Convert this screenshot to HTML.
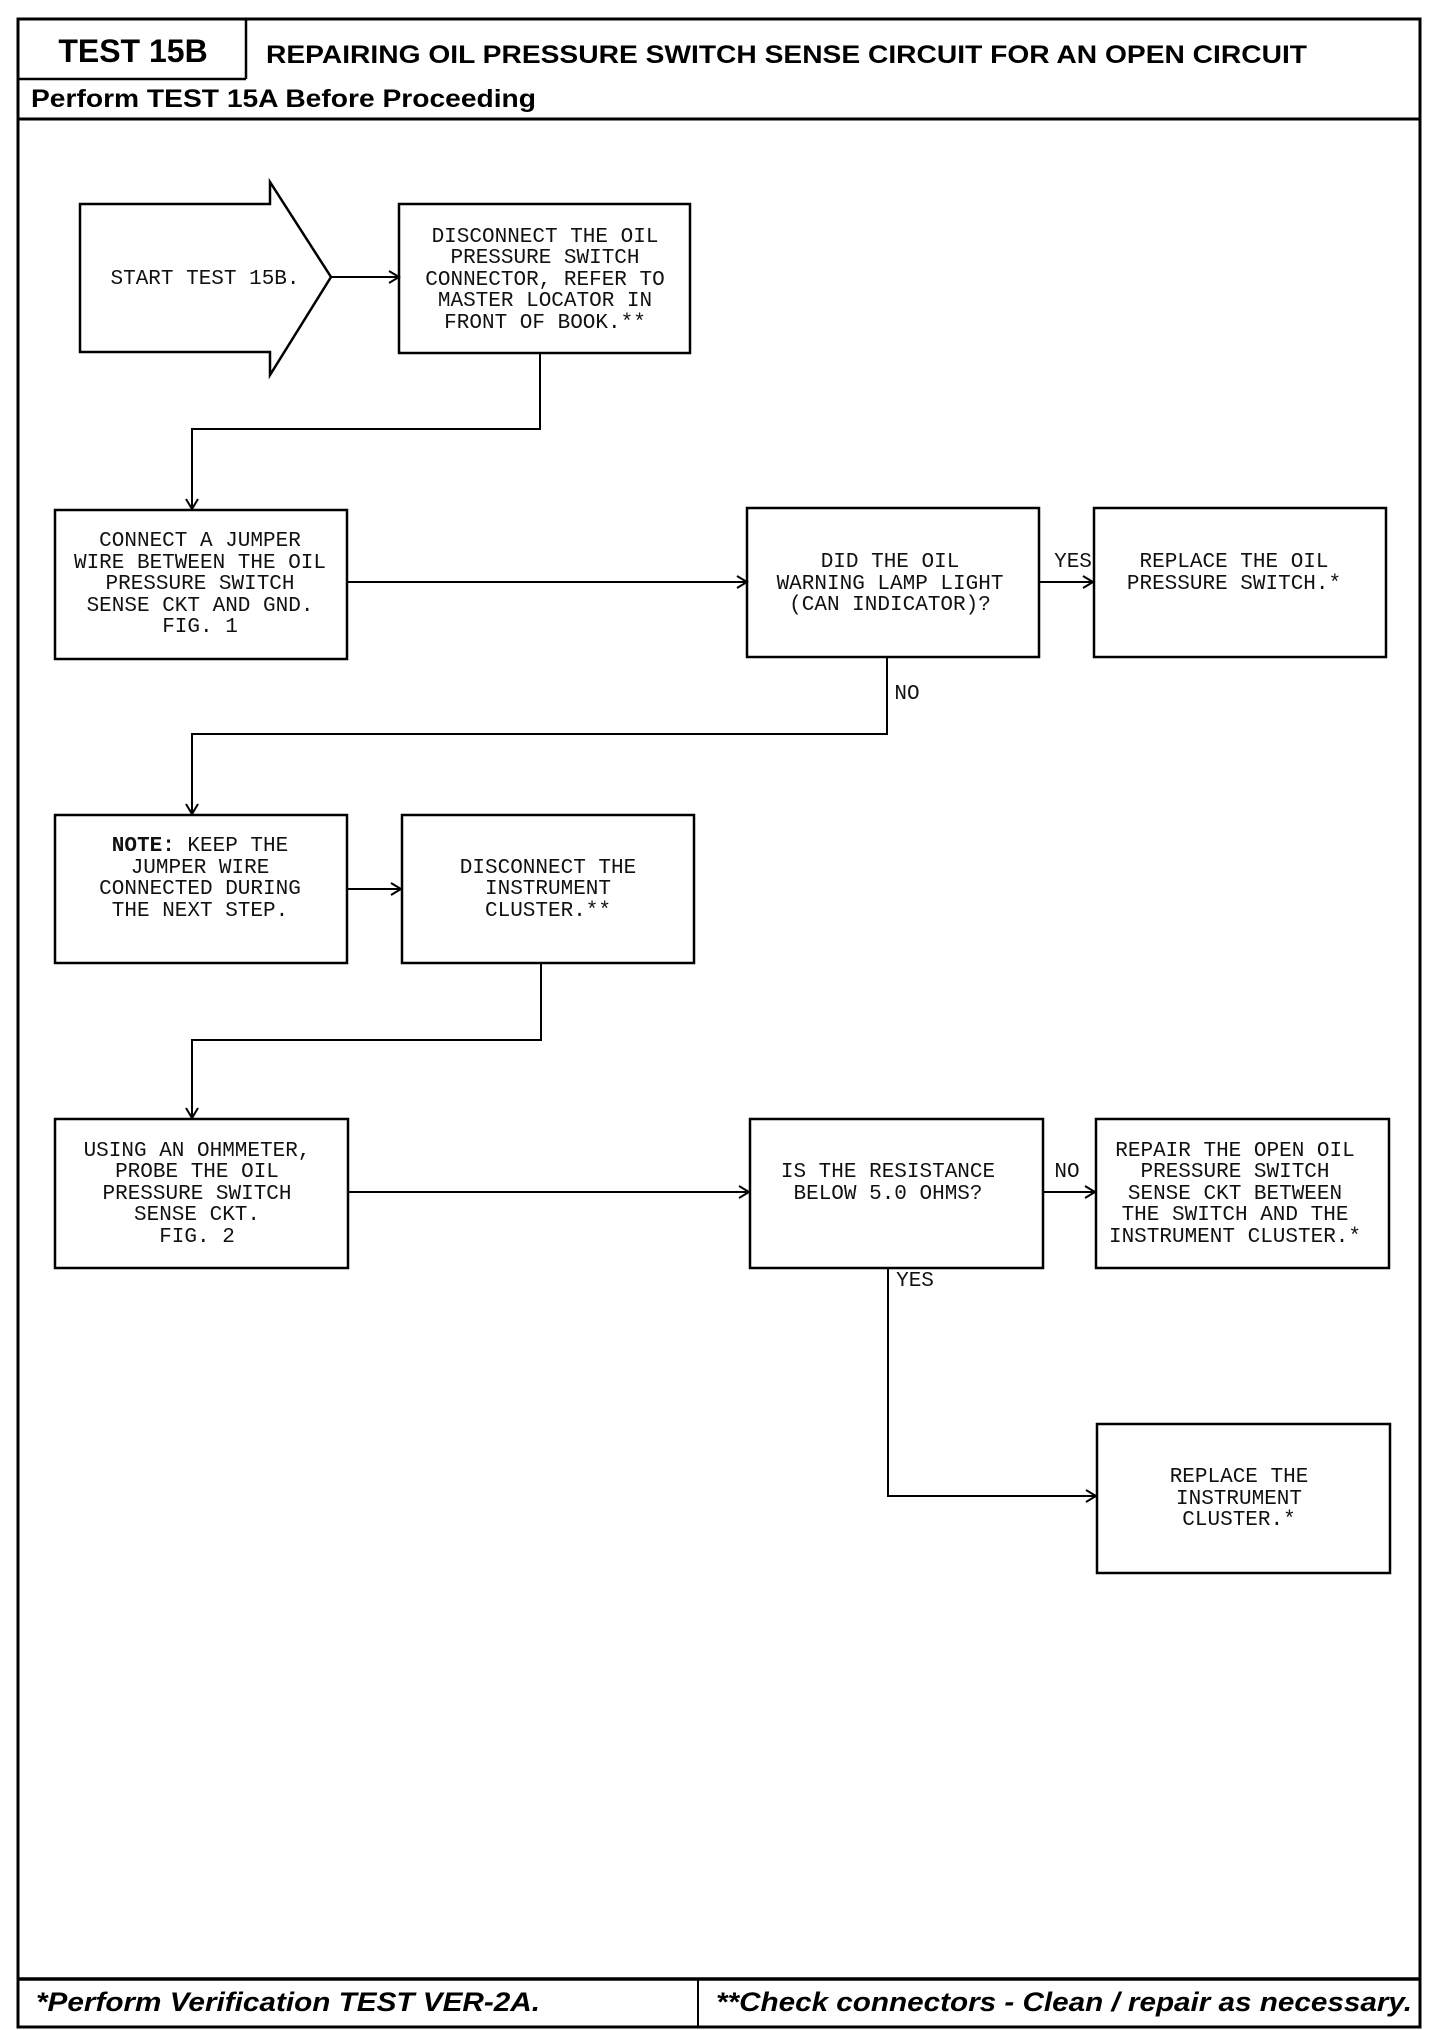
<!DOCTYPE html>
<html><head><meta charset="utf-8"><style>
html,body{margin:0;padding:0;background:#fff;}
svg{display:block;}
.m{font-family:"Liberation Mono",monospace;font-size:21px;fill:#111;text-anchor:middle;}
.h{font-family:"Liberation Sans",sans-serif;font-weight:bold;fill:#000;}
.b{fill:none;stroke:#000;stroke-width:2.5;}
.l{fill:none;stroke:#000;stroke-width:2;}
</style></head><body>
<svg width="1440" height="2030" viewBox="0 0 1440 2030" xmlns="http://www.w3.org/2000/svg">
<!-- frame -->
<rect x="18" y="19" width="1402" height="2008" fill="none" stroke="#000" stroke-width="3"/>
<line x1="246" y1="19" x2="246" y2="79" stroke="#000" stroke-width="2.5"/>
<line x1="18" y1="79" x2="246" y2="79" stroke="#000" stroke-width="2.5"/>
<line x1="18" y1="119" x2="1420" y2="119" stroke="#000" stroke-width="3"/>
<line x1="18" y1="1979" x2="1420" y2="1979" stroke="#000" stroke-width="3.5"/>
<line x1="698" y1="1979" x2="698" y2="2027" stroke="#000" stroke-width="2"/>
<text class="h" x="133" y="62" font-size="32" text-anchor="middle">TEST 15B</text>
<text class="h" x="266" y="63" font-size="25" textLength="1041" lengthAdjust="spacingAndGlyphs">REPAIRING OIL PRESSURE SWITCH SENSE CIRCUIT FOR AN OPEN CIRCUIT</text>
<text class="h" x="31" y="107" font-size="25" textLength="505" lengthAdjust="spacingAndGlyphs">Perform TEST 15A Before Proceeding</text>
<text class="h" x="36" y="2011" font-size="27" font-style="italic" textLength="504" lengthAdjust="spacingAndGlyphs">*Perform Verification TEST VER-2A.</text>
<text class="h" x="716" y="2011" font-size="27" font-style="italic" textLength="696" lengthAdjust="spacingAndGlyphs">**Check connectors - Clean / repair as necessary.</text>

<!-- start arrow -->
<polygon class="b" points="80,204 270,204 270,182 331,277 270,375 270,352 80,352"/>
<text class="m" x="205" y="284">START TEST 15B.</text>
<line class="l" x1="331" y1="277" x2="399" y2="277"/><polyline class="l" points="389,271 399,277 389,283"/>

<!-- box1 -->
<rect class="b" x="399" y="204" width="291" height="149"/>
<g class="m"><text x="545" y="242">DISCONNECT THE OIL</text><text x="545" y="263">PRESSURE SWITCH</text><text x="545" y="285">CONNECTOR, REFER TO</text><text x="545" y="306">MASTER LOCATOR IN</text><text x="545" y="328">FRONT OF BOOK.**</text></g>
<polyline class="l" points="540,353 540,429 192,429 192,509"/><polyline class="l" points="186,499 192,509 198,499"/>

<!-- jumper box -->
<rect class="b" x="55" y="510" width="292" height="149"/>
<g class="m"><text x="200" y="546">CONNECT A JUMPER</text><text x="200" y="568">WIRE BETWEEN THE OIL</text><text x="200" y="589">PRESSURE SWITCH</text><text x="200" y="611">SENSE CKT AND GND.</text><text x="200" y="632">FIG. 1</text></g>
<line class="l" x1="347" y1="582" x2="747" y2="582"/><polyline class="l" points="737,576 747,582 737,588"/>

<!-- decision1 -->
<rect class="b" x="747" y="508" width="292" height="149"/>
<g class="m"><text x="890" y="567">DID THE OIL</text><text x="890" y="589">WARNING LAMP LIGHT</text><text x="890" y="610">(CAN INDICATOR)?</text></g>
<text class="m" x="1073" y="567">YES</text>
<line class="l" x1="1039" y1="582" x2="1093" y2="582"/><polyline class="l" points="1083,576 1093,582 1083,588"/>
<rect class="b" x="1094" y="508" width="292" height="149"/>
<g class="m"><text x="1234" y="567">REPLACE THE OIL</text><text x="1234" y="589">PRESSURE SWITCH.*</text></g>

<polyline class="l" points="887,657 887,734 192,734 192,814"/><polyline class="l" points="186,804 192,814 198,804"/>
<text class="m" x="907" y="699">NO</text>

<!-- note box -->
<rect class="b" x="55" y="815" width="292" height="148"/>
<g class="m"><text x="200" y="851"><tspan font-weight="bold">NOTE:</tspan> KEEP THE</text><text x="200" y="873">JUMPER WIRE</text><text x="200" y="894">CONNECTED DURING</text><text x="200" y="916">THE NEXT STEP.</text></g>
<line class="l" x1="347" y1="889" x2="401" y2="889"/><polyline class="l" points="391,883 401,889 391,895"/>
<rect class="b" x="402" y="815" width="292" height="148"/>
<g class="m"><text x="548" y="873">DISCONNECT THE</text><text x="548" y="894">INSTRUMENT</text><text x="548" y="916">CLUSTER.**</text></g>
<polyline class="l" points="541,963 541,1040 192,1040 192,1118"/><polyline class="l" points="186,1108 192,1118 198,1108"/>

<!-- ohmmeter box -->
<rect class="b" x="55" y="1119" width="293" height="149"/>
<g class="m"><text x="197" y="1156">USING AN OHMMETER,</text><text x="197" y="1177">PROBE THE OIL</text><text x="197" y="1199">PRESSURE SWITCH</text><text x="197" y="1220">SENSE CKT.</text><text x="197" y="1242">FIG. 2</text></g>
<line class="l" x1="348" y1="1192" x2="749" y2="1192"/><polyline class="l" points="739,1186 749,1192 739,1198"/>
<rect class="b" x="750" y="1119" width="293" height="149"/>
<g class="m"><text x="888" y="1177">IS THE RESISTANCE</text><text x="888" y="1199">BELOW 5.0 OHMS?</text></g>
<text class="m" x="1067" y="1177">NO</text>
<line class="l" x1="1043" y1="1192" x2="1095" y2="1192"/><polyline class="l" points="1085,1186 1095,1192 1085,1198"/>
<rect class="b" x="1096" y="1119" width="293" height="149"/>
<g class="m"><text x="1235" y="1156">REPAIR THE OPEN OIL</text><text x="1235" y="1177">PRESSURE SWITCH</text><text x="1235" y="1199">SENSE CKT BETWEEN</text><text x="1235" y="1220">THE SWITCH AND THE</text><text x="1235" y="1242">INSTRUMENT CLUSTER.*</text></g>

<polyline class="l" points="888,1268 888,1496 1096,1496"/><polyline class="l" points="1086,1490 1096,1496 1086,1502"/>
<text class="m" x="915" y="1286">YES</text>
<rect class="b" x="1097" y="1424" width="293" height="149"/>
<g class="m"><text x="1239" y="1482">REPLACE THE</text><text x="1239" y="1504">INSTRUMENT</text><text x="1239" y="1525">CLUSTER.*</text></g>
</svg>
</body></html>
